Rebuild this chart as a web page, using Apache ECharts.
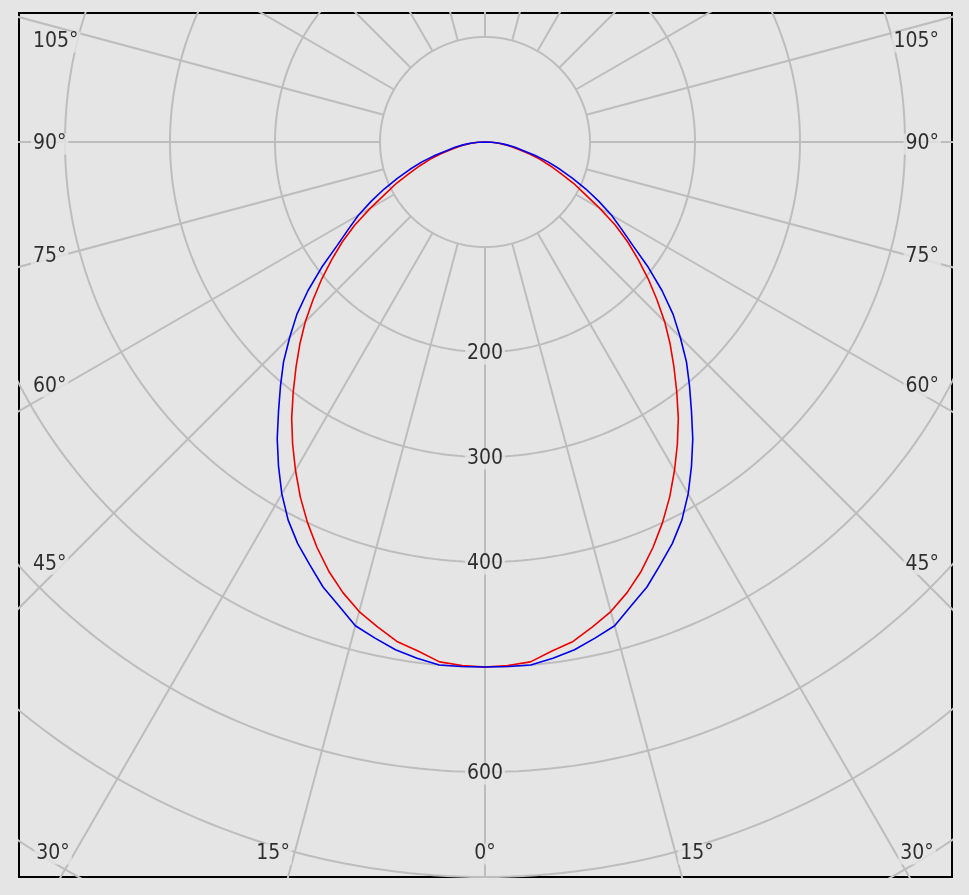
<!DOCTYPE html>
<html><head><meta charset="utf-8">
<script src="https://cdn.jsdelivr.net/npm/echarts@6/dist/echarts.min.js"></script>
<style>html,body{margin:0;padding:0;background:#e5e5e5;}#c{width:969px;height:895px;}</style>
</head><body><div id="c"></div>
<script>
// Intensity (cd) vs angle from nadir (deg), symmetric about 0°
const angles = [0,2.5,5,7.5,10,12.5,15,17.5,20,22.5,25,27.5,30,32.5,35,37.5,40,42.5,45,47.5,50,52.5,55,57.5,60,62.5,65,67.5,70,72.5,75,77.5,80,82.5,85,87.5,90];
const blueI  = [500,500,500,496,491,484,477,463,451,436,422,406,387,366,345,323,303,284,263,243,220,196,172,154,139,122,106,90,76,63,49,37,29,21,14,7,0];
const redI   = [500,499,497,489,483,473,463,450,435,418,400,381,361,341,321,300,280,261,242,222,203,184,166,147,126,107,93,78,66,55,44,33,25,19,13,6,0];
// Radial grid circles and labelled values
const circleValues = [100,200,300,400,500,600,700,800];
const radialTicks = [200,300,400,600];
// Angle ticks
const spokeStep = 15;
const sideTickAngles = [105,90,75,60,45];
const bottomTickAngles = [0,15,30];

// Layout (pixels)
const PX = 1.05, CX = 485, CY = 142, L = 19, T = 13, R = 952, B = 877;
const xMin = (L-CX)/PX, xMax = (R-CX)/PX, yMax = (CY-T)/PX, yMin = -(B-CY)/PX;
const BG = '#e5e5e5', GRID = '#bdbdbd';

function pt(theta, r){ const a = theta*Math.PI/180; return [r*Math.sin(a), -r*Math.cos(a)]; }

const series = [];
circleValues.forEach(v => {
  const d = [];
  for (let t = 0; t <= 360; t += 1) d.push(pt(t, v));
  series.push({type:'line', data:d, symbol:'none', silent:true, z:2, animation:false,
    lineStyle:{color:GRID, width:2}});
});
for (let a = 0; a < 360; a += spokeStep) {
  series.push({type:'line', data:[pt(a, circleValues[0]), pt(a, 1200)], symbol:'none', silent:true, z:2,
    animation:false, lineStyle:{color:GRID, width:2}});
}
function curve(I){
  const p = [];
  for (let i = angles.length-1; i >= 1; i--) p.push(pt(-angles[i], I[i]));
  for (let i = 0; i < angles.length; i++) p.push(pt(angles[i], I[i]));
  return p;
}
series.push({type:'line', name:'C90', data:curve(redI), symbol:'none', z:5, animation:false,
  lineStyle:{color:'#ee0000', width:1.6}});
series.push({type:'line', name:'C0', data:curve(blueI), symbol:'none', z:6, animation:false,
  lineStyle:{color:'#0000ee', width:1.6}});

const labelBase = {show:true, fontFamily:'"DejaVu Sans Condensed", "DejaVu Sans"', fontSize:21, color:'#000',
  backgroundColor:BG, padding:[0,2], position:'inside', verticalAlign:'middle', offset:[0,2]};
const labelData = [];
radialTicks.forEach(v => labelData.push({value:pt(0, v), label:{...labelBase, align:'center', formatter:String(v)}}));
const xEdge = (R-CX)/PX;
sideTickAngles.forEach(a => {
  const rad = a*Math.PI/180;
  let y = -0.9*xEdge*Math.cos(rad)/Math.sin(rad);
  y = Math.min(y, yMax - 27/PX);
  labelData.push({value:[(L+12-CX)/PX, y], label:{...labelBase, align:'left', formatter:a+'°'}});
  labelData.push({value:[(R-11-CX)/PX, y], label:{...labelBase, align:'right', formatter:a+'°'}});
});
bottomTickAngles.forEach(a => {
  const y = yMin + 25/PX;
  let x = Math.min(-yMin*Math.tan(a*Math.PI/180)*1.076, (R-35-CX)/PX);
  const sides = a === 0 ? [1] : [-1, 1];
  sides.forEach(s => labelData.push({value:[s*x, y], label:{...labelBase, align:'center', formatter:a+'°'}}));
});
series.push({type:'scatter', data:labelData, symbolSize:1, z:10, silent:true, animation:false,
  itemStyle:{color:'rgba(0,0,0,0)'}});

const chart = echarts.init(document.getElementById('c'), null, {renderer:'canvas'});
chart.setOption({
  animation:false,
  backgroundColor:BG,
  grid:{left:L, top:T, width:R-L, height:B-T, show:true, borderColor:'#000', borderWidth:2, backgroundColor:BG},
  xAxis:{type:'value', min:xMin, max:xMax, show:false},
  yAxis:{type:'value', min:yMin, max:yMax, show:false},
  series
});
</script></body></html>
